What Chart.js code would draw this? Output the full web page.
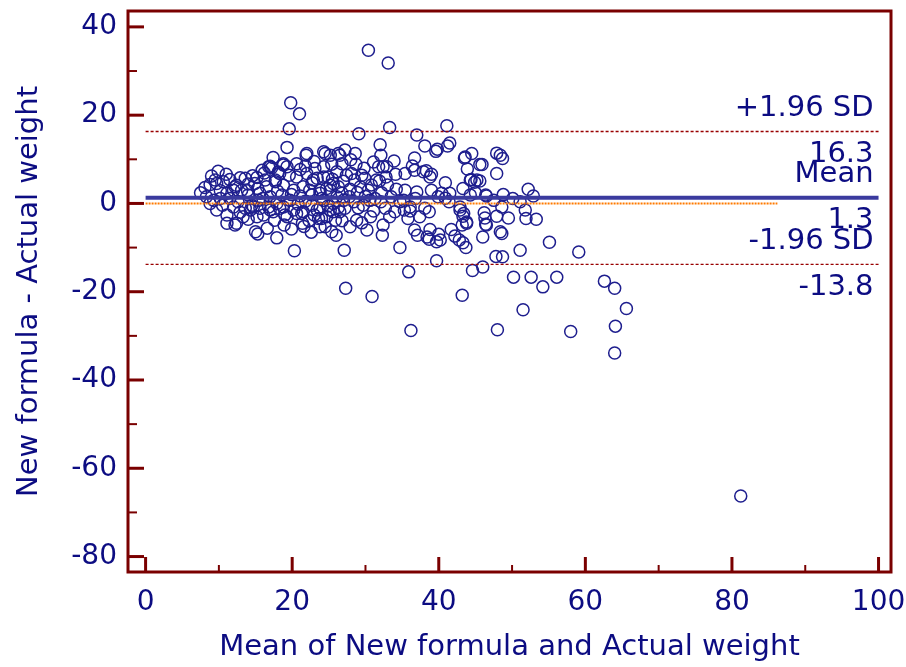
<!DOCTYPE html>
<html>
<head>
<meta charset="utf-8">
<script src="https://cdn.jsdelivr.net/npm/chart.js@4.4.0/dist/chart.umd.min.js"></script>
<style>
  html, body { margin: 0; padding: 0; background: #fff; }
</style>
</head>
<body>
<canvas id="chart" width="906" height="667"></canvas>
<script>
// x = mean of the two methods, y = difference (new formula - actual)
var meanVals = [
  30.4, 33.1, 19.8, 21.0, 19.6, 33.3, 29.1, 37.0, 41.1, 32.0,
  38.1, 39.6, 39.8, 41.2, 41.5, 32.1, 33.9, 36.7, 36.4, 43.5,
  44.5, 45.6, 43.9, 38.3, 39.0, 44.4, 44.9, 40.9, 34.1, 35.4,
  36.7, 32.8, 31.5, 34.2, 35.4, 39.0, 40.4, 41.5, 43.3, 45.0,
  46.4, 47.9, 48.4, 48.7, 47.9, 32.2, 32.1, 35.2, 35.3, 36.1,
  36.8, 37.4, 38.7, 42.9, 43.3, 43.8, 43.2, 46.2, 46.3, 46.4,
  47.9, 32.4, 32.3, 30.7, 31.1, 36.7, 37.1, 38.8, 38.7, 39.7,
  40.0, 41.7, 42.2, 42.8, 43.3, 43.7, 46.0, 48.4, 34.7, 27.1,
  39.7, 35.9, 44.6, 46.0, 47.8, 27.3, 30.9, 43.2, 36.2, 48.0,
  24.5, 25.2, 26.5, 27.2, 28.6, 24.3, 25.4, 26.8, 28.7, 24.9,
  26.1, 27.4, 28.1, 29.5, 29.9, 31.1, 31.8, 32.9, 24.7, 26.3,
  27.9, 29.3, 30.4, 24.3, 25.6, 27.0, 28.4, 29.7, 30.6, 24.0,
  25.6, 27.2, 29.0, 24.5, 25.4, 26.8, 28.8, 29.5, 19.3, 17.4,
  21.9, 15.2, 17.2, 18.1, 19.3, 19.6, 20.6, 21.1, 22.0, 23.1,
  23.4, 14.9, 16.5, 17.7, 18.8, 20.2, 21.5, 22.7, 23.8, 25.2,
  15.6, 17.0, 18.6, 19.7, 21.1, 22.7, 24.0, 14.7, 15.6, 17.0,
  18.8, 20.2, 21.5, 22.7, 23.8, 25.2, 19.0, 21.3, 23.6, 25.9,
  26.5, 21.4, 15.3, 20.3, 9.9, 9.0, 9.5, 8.8, 10.6, 11.5,
  7.5, 8.3, 9.3, 10.2, 11.1, 12.0, 13.1, 13.6, 14.6, 15.9,
  17.0, 16.3, 17.7, 18.3, 18.8, 9.7, 11.1, 12.2, 13.3, 13.6,
  14.5, 11.5, 12.6, 14.0, 15.4, 16.8, 17.9, 17.4, 18.3, 19.3,
  20.6, 21.6, 22.0, 24.3, 26.3, 22.9, 24.3, 25.6, 22.4, 23.8,
  25.2, 26.1, 23.4, 24.7, 23.8, 9.7, 12.2, 8.8, 11.1, 12.4,
  14.3, 15.2, 15.0, 12.4, 15.3, 16.8, 18.8, 43.6, 44.3, 45.2,
  45.9, 45.6, 52.2, 52.9, 46.5, 47.5, 50.1, 51.1, 48.6, 51.8,
  46.5, 49.5, 51.9, 53.3, 48.6, 55.1, 51.1, 59.1, 48.7, 50.2,
  52.6, 54.2, 56.1, 62.6, 64.0, 65.6, 51.5, 58.0, 64.1, 64.0,
  81.2, 37.0, 39.9, 44.3, 48.8, 32.7, 34.7, 36.1, 38.1, 40.9,
  41.4, 42.9, 43.4, 43.8, 38.4, 40.2, 32.4, 37.9, 38.8, 12.9,
  14.0, 16.1, 17.6, 18.9, 16.6, 13.9, 16.0, 18.0, 19.9, 21.8,
  23.0, 20.8, 22.3, 24.9, 26.3, 27.8, 28.9, 30.0, 31.3, 26.8,
  25.5, 27.0, 28.5, 30.8, 29.8, 28.0, 23.0, 20.6, 21.8, 16.2,
  14.0, 12.9, 11.0, 10.2, 8.1, 12.0, 10.5, 33.5, 34.0, 35.8,
  33.3, 31.9, 33.0, 30.2, 27.9, 26.0, 22.6, 19.9, 17.9
];
var diffVals = [
  34.7, 31.8, 22.8, 20.3, 16.9, 17.2, 15.8, 15.5, 17.6, 13.3,
  13.0, 11.8, 12.3, 13.0, 13.7, 10.9, 9.6, 10.3, 8.5, 10.3,
  11.3, 8.8, 7.8, 7.4, 6.6, 5.4, 4.8, 4.7, 6.6, 6.8,
  7.5, 6.0, 5.3, 3.2, 3.0, 3.0, 2.3, 2.3, 3.4, 2.4,
  1.9, 11.4, 10.9, 10.2, 6.8, 2.4, 0.4, 0.7, -1.5, -1.7,
  1.1, -3.0, -1.9, -1.5, -2.9, -4.5, -4.9, -2.1, -3.3, -4.7,
  -2.9, -4.9, -7.2, -3.0, -1.7, -6.0, -7.2, -5.9, -8.1, -8.7,
  -7.0, -5.9, -7.4, -8.3, -8.9, -10.0, -7.6, -6.4, -10.0, -10.6,
  -13.0, -15.5, -15.2, -14.4, -12.0, -19.2, -21.1, -20.8, -28.8, -28.6,
  11.3, 10.9, 10.9, 12.1, 11.3, 8.3, 8.9, 9.0, 8.9, 6.0,
  7.2, 6.4, 6.8, 6.4, 5.7, 9.4, 8.3, 8.3, 3.4, 3.8,
  3.2, 3.8, 3.0, 0.7, 0.0, 0.7, 0.4, -0.4, 0.7, -3.4,
  -1.9, -1.1, -1.0, -5.3, -6.4, -3.9, -3.8, -4.4, 12.7, 10.4,
  10.9, 5.9, 8.1, 7.1, 8.3, 6.4, 6.0, 7.7, 6.8, 7.9,
  5.7, 4.5, 3.8, 4.9, 4.1, 3.0, 3.8, 4.7, 3.0, 4.1,
  2.3, 1.5, 1.9, 0.7, 1.7, 1.9, 1.1, -0.8, -1.1, -1.5,
  -0.8, -1.5, -1.9, -0.4, -1.1, -1.5, -2.6, -2.3, -3.4, -3.8,
  -1.9, -4.5, -6.9, -10.7, 7.3, 6.2, 5.3, 4.3, 4.9, 5.4,
  2.4, 1.5, 0.7, 2.9, 2.3, 3.0, 3.0, 5.7, 6.3, 7.5,
  8.4, 5.3, 5.3, 6.8, 8.7, -1.5, -4.5, -4.9, -3.0, -1.1,
  -0.4, 1.1, 0.4, 1.9, 0.7, -0.8, 0.0, -1.9, -1.1, -3.0,
  -2.3, -5.2, 11.3, 11.7, 11.3, 5.3, 6.0, 4.5, 3.0, 2.3,
  3.0, 1.5, -1.5, -3.0, -5.3, 4.5, 3.8, 0.0, -2.6, -4.5,
  -1.5, -3.0, -6.4, 4.1, 3.4, 8.3, 9.0, 10.5, 5.3, 5.3,
  8.8, 5.1, 3.2, 1.7, 1.7, 0.7, 1.1, 0.4, -0.8, -1.5,
  -4.9, -3.3, -3.4, -3.6, -6.8, -8.8, -10.6, -11.0, -12.1, -16.7,
  -16.7, -18.9, -16.7, -17.6, -19.2, -23.8, -24.1, -29.0, -27.8, -33.9,
  -66.3, 2.6, 1.5, 1.9, 2.0, -1.1, 0.4, -0.8, -1.1, 1.2,
  0.4, -0.8, -2.3, -4.2, -7.6, -8.3, 8.3, 7.2, 6.0, -2.0,
  -3.6, -2.6, -3.8, -4.9, -5.6, 2.9, 1.1, 2.8, 2.0, 0.5,
  -2.6, -0.2, -3.9, -0.6, -0.9, 1.5, 2.5, 1.6, 1.1, 2.3,
  5.5, 5.0, 5.3, 4.2, 8.0, 9.9, 9.5, 9.0, 8.5, 6.9,
  4.4, 5.8, 6.6, 1.1, 3.6, -0.8, -0.4, 1.5, -1.9, -3.4,
  -3.0, 5.1, 4.2, -6.0, -5.3, -7.2, -6.5, -5.8, -7.8
];

var meanDiff = 1.3;
var upperLimit = 16.3;
var lowerLimit = -13.8;
var zeroLineEnd = 86.2;
var lineStart = 0, lineEnd = 100;

var xTicks = [0, 20, 40, 60, 80, 100];
var xMinor = [10, 30, 50, 70, 90];
var yTicks = [-80, -60, -40, -20, 0, 20, 40];
var yMinor = [-70, -50, -30, -10, 10, 30];

var navy = '#0c0c82';
var maroon = '#7a0000';
var fontFamily = '"DejaVu Sans", sans-serif';

var points = meanVals.map(function (v, i) { return { x: v, y: diffVals[i] }; });

function hLine(y, x0, x1) {
    return [{ x: x0, y: y }, { x: x1, y: y }];
}

// stop tick labels from pushing the plot area inwards
function noLabelPadding(s) {
    s.paddingTop = 0;
    s.paddingBottom = 0;
    s.paddingLeft = 0;
    s.paddingRight = 0;
}

// frame, inward tick marks and limit labels
var framePlugin = {
    id: 'frame',
    afterDraw: function (chart) {
        var ctx = chart.ctx;
        var a = chart.chartArea;
        var xs = chart.scales.x, ys = chart.scales.y;
        ctx.save();
        ctx.strokeStyle = maroon;
        ctx.lineWidth = 3;
        ctx.strokeRect(a.left, a.top, a.right - a.left, a.bottom - a.top);

        function seg(x0, y0, x1, y1, w) {
            ctx.lineWidth = w;
            ctx.beginPath();
            ctx.moveTo(x0, y0);
            ctx.lineTo(x1, y1);
            ctx.stroke();
        }
        yTicks.forEach(function (v) {
            var py = ys.getPixelForValue(v);
            seg(a.left, py, a.left + 16, py, 3);
        });
        yMinor.forEach(function (v) {
            var py = ys.getPixelForValue(v);
            seg(a.left, py, a.left + 9, py, 2);
        });
        xTicks.forEach(function (v) {
            var px = xs.getPixelForValue(v);
            seg(px, a.bottom, px, a.bottom - 15, 3);
        });
        xMinor.forEach(function (v) {
            var px = xs.getPixelForValue(v);
            seg(px, a.bottom, px, a.bottom - 7, 2);
        });

        // labels for the limits of agreement
        ctx.fillStyle = navy;
        ctx.font = '29px ' + fontFamily;
        ctx.textAlign = 'right';
        ctx.textBaseline = 'middle';
        var tx = xs.getPixelForValue(lineEnd) - 5;
        var labels = [
            [upperLimit, '+1.96 SD', upperLimit.toFixed(1)],
            [meanDiff, 'Mean', meanDiff.toFixed(1)],
            [lowerLimit, '-1.96 SD', lowerLimit.toFixed(1)]
        ];
        labels.forEach(function (l) {
            var py = ys.getPixelForValue(l[0]);
            ctx.fillText(l[1], tx, py - 23);
            ctx.fillText(l[2], tx, py + 23);
        });
        ctx.restore();
    }
};

new Chart(document.getElementById('chart'), {
    type: 'scatter',
    data: {
        datasets: [
            {
                data: hLine(meanDiff, lineStart, lineEnd),
                showLine: true, pointRadius: 0,
                borderColor: '#3a3a9e', borderWidth: 4, order: 0
            },
            {
                data: hLine(upperLimit, lineStart, lineEnd),
                showLine: true, pointRadius: 0,
                borderColor: '#990000', borderWidth: 1.3, borderDash: [3, 2], order: 1
            },
            {
                data: hLine(lowerLimit, lineStart, lineEnd),
                showLine: true, pointRadius: 0,
                borderColor: '#990000', borderWidth: 1.3, borderDash: [3, 2], order: 1
            },
            {
                data: hLine(0, lineStart, zeroLineEnd),
                showLine: true, pointRadius: 0,
                borderColor: '#ff7a00', borderWidth: 2, borderDash: [2, 1], order: 1
            },
            {
                data: points,
                pointRadius: 6,
                pointBorderWidth: 1.5,
                borderColor: '#1e1e8e',
                backgroundColor: 'rgba(255,255,255,0)',
                order: 2
            }
        ]
    },
    options: {
        responsive: false,
        animation: false,
        layout: { padding: { top: 11, right: 15, left: 0, bottom: 0 } },
        plugins: {
            legend: { display: false },
            tooltip: { enabled: false }
        },
        scales: {
            x: {
                type: 'linear',
                min: -2.4,
                max: 101.7,
                afterBuildTicks: function (s) { s.ticks = xTicks.map(function (v) { return { value: v }; }); },
                afterFit: function (s) { s.height = 95; noLabelPadding(s); },
                grid: { display: false, drawTicks: false },
                border: { display: false },
                ticks: {
                    color: navy, padding: 14, maxRotation: 0, autoSkip: false,
                    font: { family: fontFamily, size: 28 },
                    callback: function (v) { return String(v); }
                },
                title: {
                    display: true,
                    text: 'Mean of New formula and Actual weight',
                    color: navy,
                    font: { family: fontFamily, size: 29 },
                    padding: { top: 0, bottom: 2 }
                }
            },
            y: {
                type: 'linear',
                min: -83.5,
                max: 43.6,
                afterBuildTicks: function (s) { s.ticks = yTicks.map(function (v) { return { value: v }; }); },
                afterFit: function (s) { s.width = 128; noLabelPadding(s); },
                grid: { display: false, drawTicks: false },
                border: { display: false },
                ticks: {
                    color: navy, padding: 11, autoSkip: false,
                    font: { family: fontFamily, size: 28 },
                    callback: function (v) { return String(v); }
                },
                title: {
                    display: true,
                    text: 'New formula - Actual weight',
                    color: navy,
                    font: { family: fontFamily, size: 29 },
                    padding: { top: 12, bottom: 0 }
                }
            }
        }
    },
    plugins: [framePlugin]
});
</script>
</body>
</html>
